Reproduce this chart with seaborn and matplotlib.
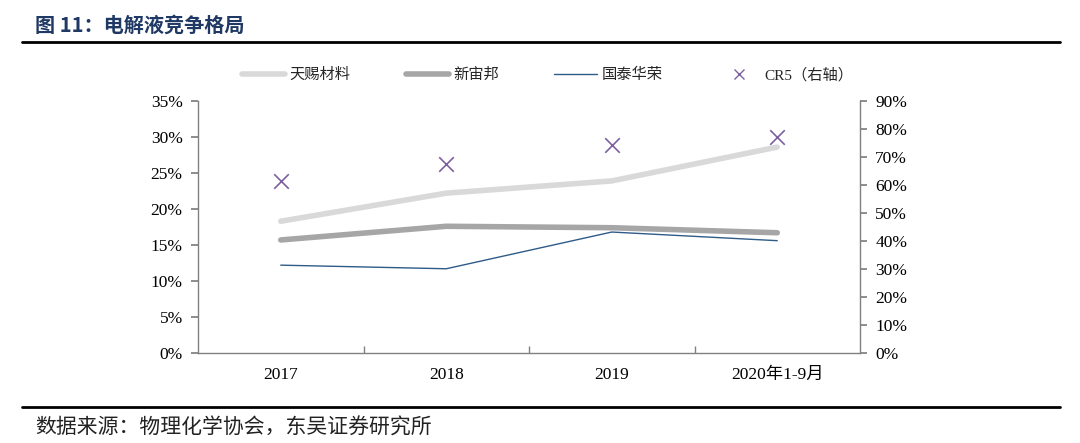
import numpy as np
import pandas as pd
import matplotlib
matplotlib.use('Agg')
import matplotlib.pyplot as plt
import seaborn as sns
from matplotlib.lines import Line2D

# data
years = ['2017', '2018', '2019', '2020年1-9月']
tinci = [18.3, 22.2, 23.9, 28.6]        # 天赐材料
capchem = [15.7, 17.6, 17.4, 16.7]      # 新宙邦
guotai = [12.2, 11.7, 16.8, 15.6]       # 国泰华荣
cr5 = [61.4, 67.5, 74.3, 77.1]          # CR5 (右轴)

sns.set_theme(style='white')
plt.rcParams['font.family'] = ['Liberation Serif', 'Noto Sans CJK SC', 'DejaVu Sans']

df = pd.DataFrame({'x': np.arange(len(years)), '天赐材料': tinci,
                   '新宙邦': capchem, '国泰华荣': guotai, 'CR5': cr5})

fig = plt.figure(figsize=(10.8, 4.43), dpi=100)
ax = fig.add_axes([198/1080, 1-353/443, 662/1080, 252/443])
ax2 = ax.twinx()

sns.lineplot(data=df, x='x', y='天赐材料', ax=ax, color='#d9d9d9', lw=4)
sns.lineplot(data=df, x='x', y='新宙邦', ax=ax, color='#a6a6a6', lw=4)
sns.lineplot(data=df, x='x', y='国泰华荣', ax=ax, color='#2f5b88', lw=1.0)
sns.scatterplot(data=df, x='x', y='CR5', ax=ax2, marker='x', color='#7d60a0',
                s=110, linewidth=1.2)

ax.set_xlim(-0.5, 3.5)
ax.set_ylim(0, 35)
ax2.set_ylim(0, 90)
ax.set_yticks(np.arange(0, 36, 5))
ax.set_yticklabels([f'{v}%' for v in range(0, 36, 5)])
ax2.set_yticks(np.arange(0, 91, 10))
ax2.set_yticklabels([f'{v}%' for v in range(0, 91, 10)])
ax.set_xticks(np.arange(len(years)))
ax.set_xticklabels(years)
ax.set_xticks([0.5, 1.5, 2.5], minor=True)
for a in (ax, ax2):
    a.set_xlabel('')
    a.set_ylabel('')
    for s in a.spines.values():
        s.set_visible(False)
    a.grid(False)

ax.spines['left'].set_visible(True)
ax.spines['bottom'].set_visible(True)
ax2.spines['right'].set_visible(True)
for s in (ax.spines['left'], ax.spines['bottom'], ax2.spines['right']):
    s.set_color('#808080')
    s.set_linewidth(1)

ax.tick_params(axis='y', which='major', direction='out', length=5, color='#808080',
               labelsize=12.5, pad=6, left=True)
ax.tick_params(axis='x', which='major', length=0, labelsize=12.5, pad=10)
ax.tick_params(axis='x', which='minor', direction='in', length=5, color='#808080',
               bottom=True)
ax2.tick_params(axis='y', direction='out', length=5, color='#808080', labelsize=12.5,
                pad=6, right=True)
for lab in ax.get_xticklabels() + ax.get_yticklabels() + ax2.get_yticklabels():
    lab.set_color('black')

handles = [Line2D([], [], color='#d9d9d9', lw=4),
           Line2D([], [], color='#a6a6a6', lw=4),
           Line2D([], [], color='#2f5b88', lw=1.0),
           Line2D([], [], color='#7d60a0', marker='x', ls='none', markersize=7)]
labels = ['天赐材料', '新宙邦', '国泰华荣', 'CR5（右轴）']
fig.legend(handles, labels, loc='center', bbox_to_anchor=(548/1080, 1-75/443),
           ncol=4, frameon=False, handlelength=2.8,
           columnspacing=3.6, handletextpad=0.3,
           prop={'family': ['Liberation Serif', 'Noto Sans CJK SC'], 'size': 11})

fig.text(35/1080, 1-25/443, '图 11：电解液竞争格局', fontsize=14.5, fontweight='bold',
         color='#1f3864', va='center', ha='left',
         family=['Noto Sans CJK SC', 'DejaVu Sans'])
fig.add_artist(Line2D([22/1080, 1060/1080], [1-42/443, 1-42/443], color='black', lw=2))
fig.add_artist(Line2D([22/1080, 1060/1080], [1-407/443, 1-407/443], color='black', lw=2))
fig.text(35/1080, 1-428/443, '数据来源：物理化学协会，东吴证券研究所', fontsize=15,
         color='#222222', va='center', ha='left',
         family=['Noto Sans CJK SC', 'DejaVu Sans'])

fig.savefig('out.png', dpi=100)
